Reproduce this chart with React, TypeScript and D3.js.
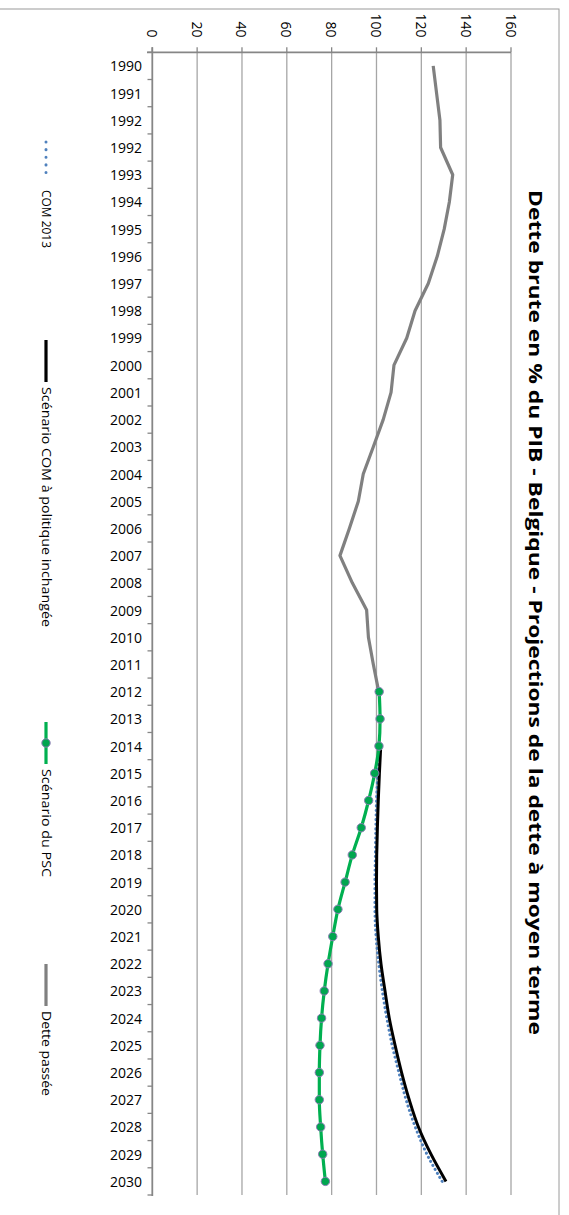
import React from "react";
import * as d3 from "d3";

// category labels (the source sheet has 1992 twice)
const years = [
  "1990", "1991", "1992", "1992", "1993", "1994", "1995", "1996", "1997", "1998",
  "1999", "2000", "2001", "2002", "2003", "2004", "2005", "2006", "2007", "2008",
  "2009", "2010", "2011", "2012", "2013", "2014", "2015", "2016", "2017", "2018",
  "2019", "2020", "2021", "2022", "2023", "2024", "2025", "2026", "2027", "2028",
  "2029", "2030"
];

// Dette passée: 1990 -> 2012
const detteStart = 0;
const detteValues = [
  125.3, 126.8, 128.3, 128.6, 134.0, 132.5, 130.2, 127.1, 123.1, 117.2,
  113.5, 107.8, 106.5, 103.0, 98.6, 94.1, 91.9, 87.9, 83.7, 89.2,
  95.6, 96.4, 98.6, 101.0
];

// Scénario du PSC: 2012 -> 2030
const pscStart = 23;
const pscValues = [
  101.2, 101.6, 101.1, 99.2, 96.5, 93.2, 89.2, 86.0, 82.8, 80.5,
  78.4, 76.7, 75.5, 74.8, 74.5, 74.5, 75.1, 76.0, 77.2
];

// Scénario COM à politique inchangée: 2014 -> 2030
const comStart = 25;
const comValues = [
  101.9, 101.3, 100.8, 100.4, 100.1, 100.0, 100.1, 100.8, 102.0, 103.8,
  105.7, 108.3, 111.2, 114.6, 118.7, 124.3, 131.0
];

// COM 2013: 2014 -> 2030
const com13Start = 25;
const com13Values = [
  101.4, 100.6, 100.0, 99.7, 99.5, 99.3, 99.3, 99.8, 101.0, 102.6,
  104.6, 107.0, 110.0, 113.2, 117.3, 122.5, 129.3
];

const valueTicks = [0, 20, 40, 60, 80, 100, 120, 140, 160];

const legendItems = [
  { label: "COM 2013", kind: "dots", color: "#4F81BD", pos: 142, len: 58 },
  { label: "Scénario COM à politique inchangée", kind: "black", color: "#000000", pos: 340, len: 240 },
  { label: "Scénario du PSC", kind: "psc", color: "#00B050", pos: 722, len: 108 },
  { label: "Dette passée", kind: "grey", color: "#808080", pos: 964, len: 85 }
];

const W = 569;
const H = 1215;
const FONT = "'Open Sans', 'Noto Sans', sans-serif";

export default function App() {
  const x = d3.scaleLinear().domain([0, 160]).range([152.3, 511]);
  const y = d3
    .scaleBand<number>()
    .domain(years.map((_, i) => i))
    .range([52.3, 1195])
    .paddingInner(0)
    .paddingOuter(0);
  const cy = (i: number) => (y(i) as number) + y.bandwidth() / 2;

  const toPts = (vals: number[], start: number) =>
    vals.map((v, k) => ({ i: start + k, v }));

  const straight = d3
    .line<{ i: number; v: number }>()
    .x((d) => x(d.v))
    .y((d) => cy(d.i));
  const smooth = d3
    .line<{ i: number; v: number }>()
    .x((d) => x(d.v))
    .y((d) => cy(d.i))
    .curve(d3.curveMonotoneY);

  const dette = toPts(detteValues, detteStart);
  const psc = toPts(pscValues, pscStart);
  const com = toPts(comValues, comStart);
  const com13 = toPts(com13Values, com13Start);

  const [top, bottom] = y.range();
  const boundaries = years.map((_, i) => y(i) as number).concat([bottom]);

  return (
    <svg
      width={W}
      height={H}
      style={{ position: "absolute", left: 0, top: 0, background: "#fff" }}
      fontFamily={FONT}
    >
      {/* chart border */}
      <rect x={-2} y={9} width={561} height={H + 10} fill="#fff" stroke="#9a9a9a" strokeWidth={1} />

      {/* gridlines */}
      {valueTicks.slice(1).map((t) => (
        <line key={"g" + t} x1={x(t)} x2={x(t)} y1={top} y2={bottom} stroke="#a6a6a6" strokeWidth={1.3} />
      ))}

      {/* value axis (top) */}
      <line x1={147} x2={x(160)} y1={top} y2={top} stroke="#868686" strokeWidth={1.8} />
      {valueTicks.map((t) => (
        <line key={"vt" + t} x1={x(t)} x2={x(t)} y1={top - 5} y2={top} stroke="#868686" strokeWidth={1.3} />
      ))}
      {valueTicks.map((t) => (
        <text
          key={"vl" + t}
          transform={`translate(${x(t)},37.5) rotate(90)`}
          textAnchor="end"
          dominantBaseline="central"
          fontSize={14}
          fill="#000"
        >
          {t}
        </text>
      ))}

      {/* category axis */}
      <line x1={x(0)} x2={x(0)} y1={top - 5} y2={bottom + 1} stroke="#868686" strokeWidth={1.8} />
      {boundaries.map((b, k) => (
        <line key={"ct" + k} x1={147.5} x2={x(0)} y1={b} y2={b} stroke="#868686" strokeWidth={1.3} />
      ))}
      {years.map((yr, i) => (
        <text key={"cl" + i} x={142} y={cy(i)} textAnchor="end" dominantBaseline="central" fontSize={14} fill="#000">
          {yr}
        </text>
      ))}

      {/* series */}
      <path d={straight(dette) || ""} fill="none" stroke="#808080" strokeWidth={3.2} strokeLinejoin="round" />
      <path
        d={smooth(com13) || ""}
        fill="none"
        stroke="#4F81BD"
        strokeWidth={3}
        strokeDasharray="0.1 4.5"
        strokeLinecap="round"
      />
      <path d={smooth(com) || ""} fill="none" stroke="#000" strokeWidth={3} />
      <path d={smooth(psc) || ""} fill="none" stroke="#00B050" strokeWidth={3.2} />
      {psc.map((d) => (
        <circle key={"m" + d.i} cx={x(d.v)} cy={cy(d.i)} r={4.2} fill="#00A64F" stroke="#8C7DB5" strokeWidth={1} />
      ))}

      {/* title */}
      <text
        transform="translate(529,190) rotate(90)"
        fontSize={17}
        fontWeight="bold"
        fill="#000"
        textLength={845}
        lengthAdjust="spacingAndGlyphs"
      >
        Dette brute en % du PIB - Belgique - Projections de la dette à moyen terme
      </text>

      {/* legend */}
      {legendItems.map((it) => (
        <g key={it.label}>
          {it.kind === "dots" ? (
            <line
              x1={46}
              x2={46}
              y1={it.pos}
              y2={it.pos + 38}
              stroke={it.color}
              strokeWidth={3}
              strokeDasharray="0.1 7.5"
              strokeLinecap="round"
            />
          ) : (
            <line x1={46} x2={46} y1={it.pos} y2={it.pos + 42} stroke={it.color} strokeWidth={3.2} />
          )}
          {it.kind === "psc" && (
            <circle cx={46} cy={it.pos + 21} r={4.2} fill="#00A64F" stroke="#8C7DB5" strokeWidth={1} />
          )}
          <text
            transform={`translate(41.7,${it.kind === "dots" ? it.pos + 48 : it.pos + 47}) rotate(90)`}
            fontSize={13}
            fill="#000"
            textLength={it.len}
            lengthAdjust="spacingAndGlyphs"
          >
            {it.label}
          </text>
        </g>
      ))}
    </svg>
  );
}
